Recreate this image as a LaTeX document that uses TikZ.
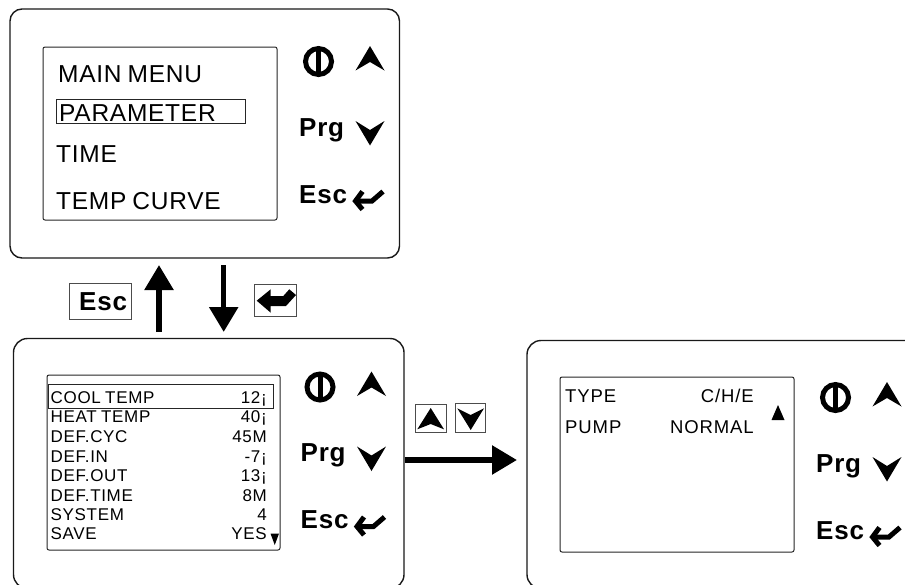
\documentclass[tikz,border=0pt]{standalone}
\usepackage{fontspec}
\usetikzlibrary{arrows.meta}
\setmainfont{Liberation Sans}
\newfontfamily\lcdfont[LetterSpace=3,WordSpace=0.8]{Liberation Sans}
\newfontfamily\rowfont[LetterSpace=4,WordSpace=0.8]{Liberation Sans}
\newfontfamily\widefont[LetterSpace=5]{Liberation Sans}
\newfontfamily\keyfont[LetterSpace=3]{Liberation Sans Bold}
\tikzset{
  panel/.style={draw=black!90,line width=1.4pt,rounded corners=12pt,fill=white,inner sep=0},
  screen/.style={draw=black!85,line width=1pt,rounded corners=2pt,inner sep=0},
  hilite/.style={draw=black!85,line width=1pt,inner sep=0},
  keybox/.style={draw=black!70,line width=1pt,inner sep=0,fill=white},
  lcd/.style={inner sep=0,anchor=base west,font=\lcdfont\fontsize{24.5}{25}\selectfont},
  rowl/.style={inner sep=0,anchor=base west,font=\rowfont\fontsize{17}{18}\selectfont},
  rowr/.style={inner sep=0,anchor=base east,font=\rowfont\fontsize{17}{18}\selectfont},
  widel/.style={inner sep=0,anchor=base west,font=\widefont\fontsize{18.5}{19}\selectfont},
  wider/.style={inner sep=0,anchor=base east,font=\widefont\fontsize{18.5}{19}\selectfont},
  keytxt/.style={inner sep=0,anchor=base west,font=\keyfont\fontsize{26}{26}\selectfont},
  flow/.style={line width=5.5pt,-{Triangle[length=25pt,width=28pt]}},
  pwr/.style={circle,draw=black,line width=5pt,minimum size=26pt,inner sep=0},
}
% keypad, drawn for the top panel and shifted for the others
\newcommand{\keypad}[3]{%
  \begin{scope}[shift={(#2,#3)}]
    \node[pwr] (#1pwr) at (318.5,61.5) {};
    \fill (316,47) rectangle (321,76);
    \fill (370,46) -- (384.5,70.5) -- (370,62) -- (355.5,70.5) -- cycle;
    \node[keytxt] (#1prg) at (299,136) {Prg};
    \fill (355.5,121) -- (370,130) -- (384.5,121) -- (370,145.5) -- cycle;
    \node[keytxt] (#1esc) at (299,203) {Esc};
    \draw[line width=5pt,miter limit=4] (362.5,191.5) -- (355.5,201) -- (362.5,209.5);
    \draw[line width=5pt] (356,201) -- (372,201) -- (383,191.5);
  \end{scope}}
\begin{document}
\begin{tikzpicture}[x=1pt,y=-1pt]
\useasboundingbox (0,0) rectangle (905,584);
\clip (0,0) rectangle (905,584);
\fill[white] (0,0) rectangle (905,584);
% panels
\node[panel,minimum width=389.5pt,minimum height=249pt] (p1) at (204.75,133.5) {};
\node[panel,minimum width=390.5pt,minimum height=250pt,rounded corners=14pt] (p2) at (208.75,463.5) {};
\node[panel,minimum width=400pt,minimum height=248pt,rounded corners=14pt] (p3) at (727,464.5) {};
% screens
\node[screen,minimum width=234pt,minimum height=173pt] (s1) at (160,133.5) {};
\node[screen,minimum width=233pt,minimum height=175pt] (s2) at (163.5,462.5) {};
\node[screen,minimum width=234pt,minimum height=175pt] (s3) at (677,464.5) {};
% top panel text
\node[lcd] (t1) at (58,82.7) {MAIN MENU};
\node[hilite,minimum width=189pt,minimum height=24.5pt] (h1) at (150.5,111.7) {};
\node[lcd] (t2) at (59,121) {PARAMETER};
\node[lcd] (t3) at (56,162) {TIME};
\node[lcd] (t4) at (56,209) {TEMP CURVE};
\keypad{a}{0}{0}
% left panel text
\node[hilite,minimum width=225pt,minimum height=24pt] (h2) at (160.5,396) {};
\foreach \n/\l/\v/\y in {1/COOL TEMP/12¡/403,2/HEAT TEMP/40¡/422,3/DEF.CYC/45M/442.5,4/DEF.IN/-7¡/462,5/DEF.OUT/13¡/481,6/DEF.TIME/8M/501,7/SYSTEM/4/520,8/SAVE/YES/539}{
  \node[rowl] (l\n) at (50.5,\y) {\l};
  \node[rowr] (v\n) at (267,\y) {\v};
}
\fill (270.5,533.5) -- (279,533.5) -- (274.75,545) -- cycle;
\keypad{b}{1.5}{325.5}
% right panel text
\node[widel] (tt) at (565,402) {TYPE};
\node[wider] (tv) at (754,402) {C/H/E};
\node[widel] (pt) at (565,433) {PUMP};
\node[wider] (pv) at (754,433) {NORMAL};
\fill (778,405) -- (784.5,420) -- (771.5,420) -- cycle;
\keypad{c}{517}{336}
% connectors
\coordinate (upS) at (159,332);
\coordinate (upE) at (159,265);
\coordinate (dnS) at (223.7,265);
\coordinate (dnE) at (223.7,332);
\coordinate (rtE) at (517,460);
\draw[flow] (upS) -- (upE);
\draw[flow] (dnS) -- (dnE);
\draw[flow] (p2.east |- rtE) -- (rtE);
% key legends
\node[keybox,minimum width=62.5pt,minimum height=36pt] (kesc) at (100.3,301) {};
\node[keytxt] (kesct) at (79,310) {Esc};
\node[keybox,minimum width=42pt,minimum height=32pt] (kent) at (275,300) {};
\fill (256.7,300.7) -- (270.7,289.3) -- (270.7,296) -- (283.3,296) -- (289.3,289.3) -- (296,295) -- (286,306) -- (270.7,306) -- (270.7,312.7) -- cycle;
\node[keybox,minimum width=30.5pt,minimum height=28.5pt] (kup) at (431,418.3) {};
\fill (430.7,408) -- (444,429.3) -- (430.7,424) -- (417.3,429.3) -- cycle;
\node[keybox,minimum width=29.5pt,minimum height=28.5pt] (kdn) at (470.5,418) {};
\fill (457.3,408.3) -- (470.7,415) -- (484,408.3) -- (470.7,430) -- cycle;
\end{tikzpicture}
\end{document}
